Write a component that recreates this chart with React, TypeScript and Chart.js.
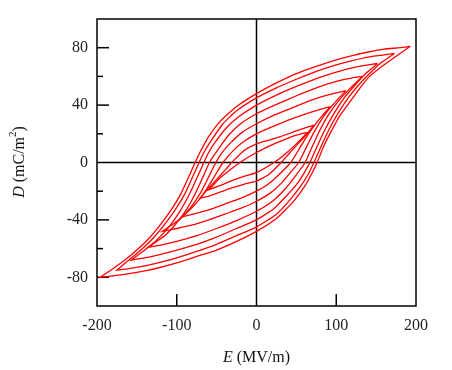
import { useEffect, useRef } from "react";
import { Chart, registerables } from "chart.js";

Chart.register(...registerables);

type Pt = [number, number];

// Tick values
const xTickValues = [-200, -100, 0, 100, 200];
const yTickValues = [-80, -40, 0, 40, 80];
const xTickMarks = [-100, 100];
const yMajorMarks = [-80, -40, 40, 80];
const yMinorMarks = [-60, -20, 20, 60];

// Hysteresis loops (E in MV/m, D in mC/m^2); upper branch: +tip -> -tip, lower branch: -tip -> +tip
const loop8Upper: Pt[] = [[193,81],[180,80],[160,79],[140,77],[120,74.5],[100,71.5],[75,67],[50,62],[25,55.5],[0,48],[-25,39],[-45,29],[-60,18],[-70,8],[-77,0],[-85,-10],[-95,-22],[-107,-33],[-120,-43],[-135,-53],[-150,-61],[-165,-68],[-180,-74],[-196,-80]];
const loop8Lower: Pt[] = [[-196,-80],[-180,-79],[-160,-77.5],[-140,-75.5],[-120,-73],[-100,-70],[-75,-65.5],[-50,-61],[-25,-55],[0,-48],[25,-39],[45,-28],[60,-17],[70,-7],[76,0],[84,11],[93,21],[105,33],[118,43],[130,52],[140,59],[155,66],[175,74],[193,81]];

const loop7Upper: Pt[] = [[173,76],[160,75],[140,73.5],[120,71],[100,68],[75,63.5],[50,58],[25,52],[0,45],[-25,36],[-42,27],[-56,16],[-65,8],[-72,0],[-80,-10],[-90,-22],[-102,-33],[-115,-43],[-130,-53],[-145,-61],[-160,-68],[-175,-75]];
const loop7Lower: Pt[] = [[-175,-75],[-160,-74],[-140,-72],[-120,-69.5],[-100,-66.5],[-75,-62],[-50,-57],[-25,-51],[0,-45],[25,-36],[42,-26],[56,-16],[65,-8],[72,0],[80,10],[90,22],[102,34],[115,45],[128,54],[140,61],[155,69],[173,76]];

const loop6Upper: Pt[] = [[152,69],[140,68],[120,66],[100,63],[75,58.5],[50,53],[25,47],[0,40],[-22,32],[-38,24],[-52,14],[-60,7],[-66,0],[-74,-10],[-84,-22],[-96,-34],[-110,-45],[-125,-54],[-140,-61],[-157,-68]];
const loop6Lower: Pt[] = [[-157,-68],[-140,-66.5],[-120,-64],[-100,-61],[-75,-57],[-50,-52],[-25,-46],[0,-40],[22,-32],[38,-23],[52,-14],[60,-7],[67,0],[75,10],[85,22],[97,34],[110,45],[122,53],[137,62],[152,69]];

const loop5Upper: Pt[] = [[133,60],[120,59],[100,56.5],[75,52],[50,46.5],[25,40.5],[0,34],[-20,27],[-35,19],[-47,10],[-59,0],[-67,-10],[-77,-22],[-88,-33],[-100,-42],[-115,-51],[-136,-59]];
const loop5Lower: Pt[] = [[-136,-59],[-120,-57.5],[-100,-55],[-75,-51],[-50,-46],[-25,-40.5],[0,-34],[20,-27],[35,-19],[48,-10],[61,0],[69,10],[79,22],[90,33],[103,43],[118,52],[133,60]];

const loop4Upper: Pt[] = [[112,50],[100,48.5],[80,45.5],[60,41.5],[40,37],[20,32.5],[0,27],[-18,21],[-32,14],[-43,7],[-51,0],[-60,-10],[-70,-21],[-82,-31],[-95,-39],[-118,-48]];
const loop4Lower: Pt[] = [[-118,-48],[-100,-46],[-80,-43.5],[-60,-40],[-40,-36],[-20,-32],[0,-27],[18,-21],[32,-14],[44,-6],[53,0],[62,10],[72,21],[84,32],[97,41],[112,50]];

const loop3Upper: Pt[] = [[93,39],[80,37],[60,33.5],[40,29.5],[20,25],[0,20],[-15,15],[-28,9],[-42,0],[-52,-9],[-62,-18],[-72,-26],[-82,-32],[-94,-38]];
const loop3Lower: Pt[] = [[-94,-38],[-80,-36],[-60,-33],[-40,-29],[-20,-25],[0,-20],[15,-15],[29,-8],[43,0],[53,9],[63,18],[73,26],[83,33],[93,39]];

const loop2Upper: Pt[] = [[72,26],[60,24],[45,21],[30,18],[15,15.5],[0,13],[-15,8.5],[-31,0],[-42,-7],[-52,-13],[-62,-19],[-71,-25]];
const loop2Lower: Pt[] = [[-71,-25],[-60,-23.5],[-45,-20.5],[-30,-17.5],[-15,-15],[0,-13],[15,-8.5],[31,0],[42,7],[52,13],[62,19],[72,26]];

const loop1Upper: Pt[] = [[64,21],[50,19],[35,16],[20,12.5],[0,7],[-21,0],[-35,-6],[-48,-12],[-60,-19]];
const loop1Lower: Pt[] = [[-60,-19],[-45,-16],[-30,-12.5],[-15,-9.5],[0,-7],[22,0],[36,6],[50,13],[64,21]];

const loops: [Pt[], Pt[]][] = [
  [loop1Upper, loop1Lower],
  [loop2Upper, loop2Lower],
  [loop3Upper, loop3Lower],
  [loop4Upper, loop4Lower],
  [loop5Upper, loop5Lower],
  [loop6Upper, loop6Lower],
  [loop7Upper, loop7Lower],
  [loop8Upper, loop8Lower],
];

const SERIF = '"Liberation Serif", "Times New Roman", serif';

const framePlugin = {
  id: "frame",
  beforeDatasetsDraw(chart: any) {
    const { ctx, chartArea: a, scales } = chart;
    const xs = scales.x, ys = scales.y;
    ctx.save();
    ctx.strokeStyle = "#000";
    ctx.lineWidth = 1.5;
    ctx.strokeRect(a.left, a.top, a.right - a.left, a.bottom - a.top);
    const line = (x1: number, y1: number, x2: number, y2: number) => {
      ctx.beginPath();
      ctx.moveTo(x1, y1);
      ctx.lineTo(x2, y2);
      ctx.stroke();
    };
    const x0 = xs.getPixelForValue(0);
    const y0 = ys.getPixelForValue(0);
    line(x0, a.top, x0, a.bottom);
    line(a.left, y0, a.right, y0);
    yMajorMarks.forEach((v) => {
      const p = ys.getPixelForValue(v);
      line(a.left, p, a.left + 12, p);
    });
    yMinorMarks.forEach((v) => {
      const p = ys.getPixelForValue(v);
      line(a.left, p, a.left + 6, p);
    });
    xTickMarks.forEach((v) => {
      const p = xs.getPixelForValue(v);
      line(p, a.bottom, p, a.bottom - 12);
    });
    ctx.restore();
  },
  afterDraw(chart: any) {
    const { ctx, chartArea: a } = chart;
    ctx.save();
    ctx.fillStyle = "#111";
    ctx.textBaseline = "alphabetic";
    ctx.textAlign = "left";
    // x title
    const italic = `italic 16px ${SERIF}`;
    const normal = `16px ${SERIF}`;
    const small = `11px ${SERIF}`;
    ctx.font = italic;
    const wE = ctx.measureText("E").width;
    ctx.font = normal;
    const wRest = ctx.measureText(" (MV/m)").width;
    const cx = (a.left + a.right) / 2;
    let sx = cx - (wE + wRest) / 2;
    ctx.font = italic;
    ctx.fillText("E", sx, 362);
    ctx.font = normal;
    ctx.fillText(" (MV/m)", sx + wE, 362);
    // y title
    ctx.translate(24, 162);
    ctx.rotate(-Math.PI / 2);
    ctx.font = italic;
    const wD = ctx.measureText("D").width;
    ctx.font = normal;
    const wMid = ctx.measureText(" (mC/m").width;
    const wClose = ctx.measureText(")").width;
    ctx.font = small;
    const w2 = ctx.measureText("2").width;
    const total = wD + wMid + w2 + wClose;
    let px = -total / 2;
    ctx.font = italic;
    ctx.fillText("D", px, 0);
    px += wD;
    ctx.font = normal;
    ctx.fillText(" (mC/m", px, 0);
    px += wMid;
    ctx.font = small;
    ctx.fillText("2", px, -8);
    px += w2;
    ctx.font = normal;
    ctx.fillText(")", px, 0);
    ctx.restore();
  },
};

export default function App() {
  const ref = useRef<HTMLCanvasElement | null>(null);
  useEffect(() => {
    document.body.style.margin = "0";
    const canvas = ref.current;
    if (!canvas) return;
    const chart = new Chart(canvas, {
      type: "scatter",
      data: {
        datasets: loops.map(([up, lo], i) => ({
          label: `loop ${i + 1}`,
          data: [...up, ...lo].map(([x, y]) => ({ x, y })),
          showLine: true,
          borderColor: "#ff0000",
          backgroundColor: "#ff0000",
          borderWidth: 1.3,
          pointRadius: 0,
          tension: 0.15,
          fill: false,
        })),
      },
      options: {
        responsive: false,
        animation: false,
        layout: { padding: { top: 19, right: 36, left: 0, bottom: 0 } },
        plugins: { legend: { display: false }, tooltip: { enabled: false } },
        scales: {
          x: {
            type: "linear",
            min: -200,
            max: 200,
            afterBuildTicks: (s: any) => {
              s.ticks = xTickValues.map((v) => ({ value: v }));
            },
            afterFit: (s: any) => {
              s.height = 64;
            },
            grid: { display: false, drawTicks: false },
            border: { display: false },
            ticks: {
              padding: 10,
              color: "#222",
              font: { family: SERIF, size: 16 },
              maxRotation: 0,
            },
          },
          y: {
            type: "linear",
            min: -100,
            max: 100,
            afterBuildTicks: (s: any) => {
              s.ticks = yTickValues.map((v) => ({ value: v }));
            },
            afterFit: (s: any) => {
              s.width = 97;
            },
            grid: { display: false, drawTicks: false },
            border: { display: false },
            ticks: {
              padding: 9,
              color: "#222",
              font: { family: SERIF, size: 16 },
            },
          },
        },
      },
      plugins: [framePlugin],
    });
    return () => chart.destroy();
  }, []);
  return <canvas ref={ref} width={452} height={370} style={{ display: "block" }} />;
}
